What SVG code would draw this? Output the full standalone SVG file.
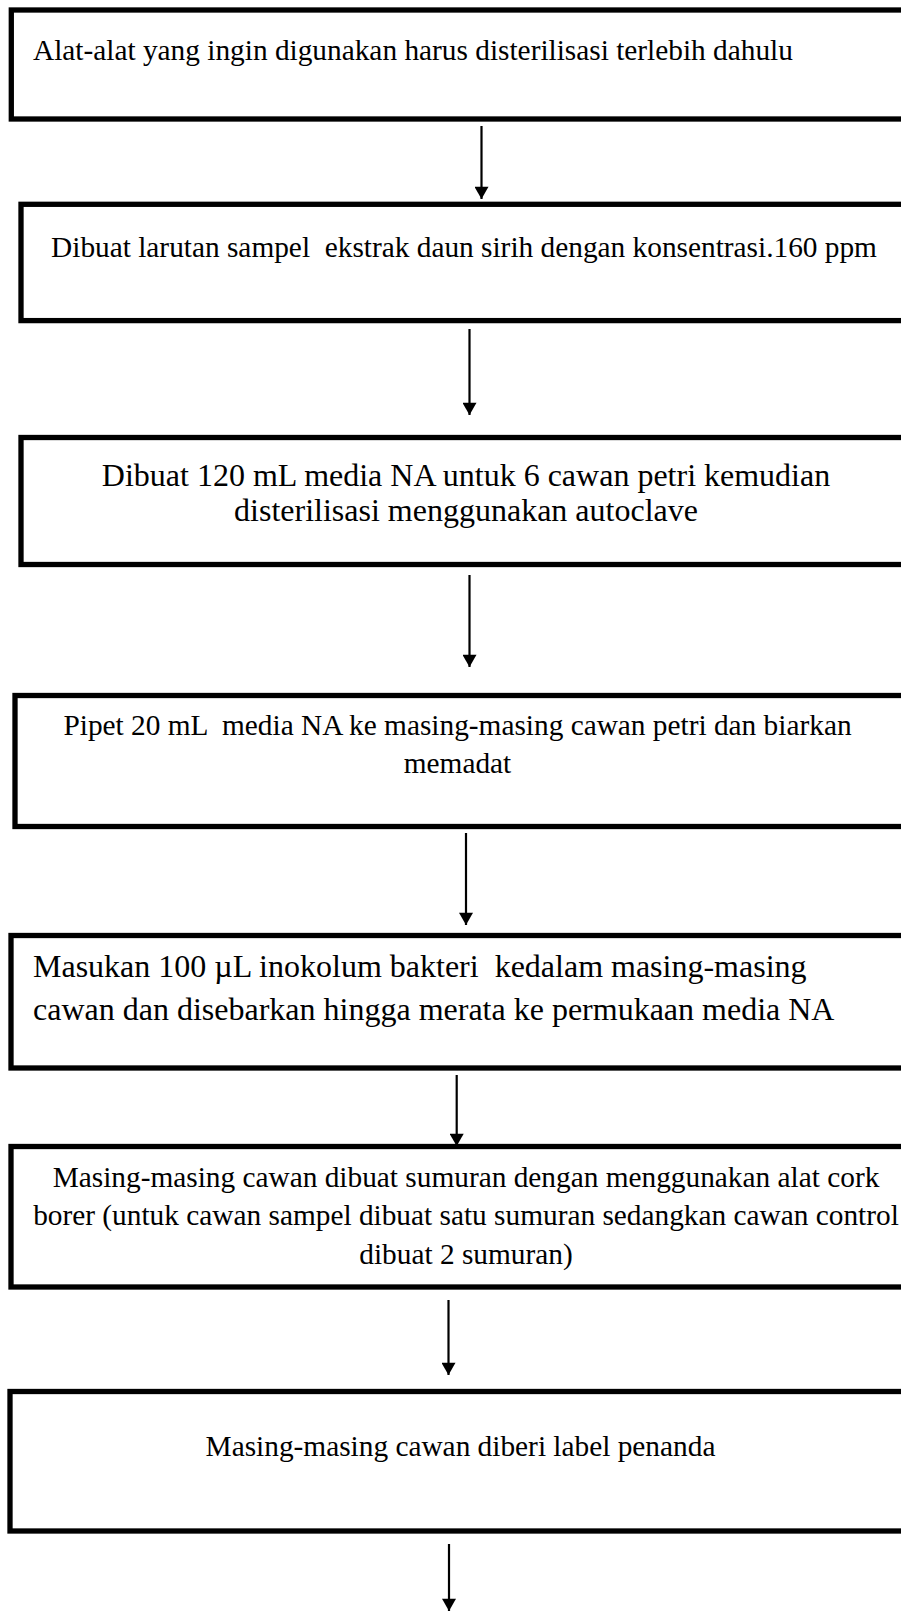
<svg xmlns="http://www.w3.org/2000/svg" width="901" height="1612" viewBox="0 0 901 1612">
<style>
.box{fill:#fff;stroke:#000;stroke-width:5.3}
.t{font-family:"Liberation Serif","Times New Roman",serif;font-size:29.33px;fill:#000}
.tl{font-family:"Liberation Serif","Times New Roman",serif;font-size:32px;fill:#000}
.c{text-anchor:middle}
.ln{stroke:#000;stroke-width:2.2;fill:none}
</style>
<defs>
<marker id="ah" markerUnits="userSpaceOnUse" markerWidth="16" markerHeight="14" refX="13" refY="7.5" orient="auto" viewBox="0 0 13 15">
<path d="M0,0 L13,7.5 L0,15 Z" fill="#000"/>
</marker>
</defs>
<rect width="901" height="1612" fill="#fff"/>
<g id="n1">
<rect class="box" x="11.3" y="10" width="905" height="109"/>
<text class="t" x="33" y="60">Alat-alat yang ingin digunakan harus disterilisasi terlebih dahulu</text>
</g>
<g id="n2">
<rect class="box" x="21" y="204.3" width="895" height="116.3"/>
<text class="t c" x="464" y="257" xml:space="preserve">Dibuat larutan sampel  ekstrak daun sirih dengan konsentrasi.160 ppm</text>
</g>
<g id="n3">
<rect class="box" x="21" y="437.5" width="895" height="127"/>
<text class="tl c" x="466" y="486">Dibuat 120 mL media NA untuk 6 cawan petri kemudian</text>
<text class="tl c" x="466" y="521">disterilisasi menggunakan autoclave</text>
</g>
<g id="n4">
<rect class="box" x="15" y="695.5" width="901" height="131"/>
<text class="t c" x="457.5" y="735" xml:space="preserve">Pipet 20 mL  media NA ke masing-masing cawan petri dan biarkan</text>
<text class="t c" x="457.5" y="773">memadat</text>
</g>
<g id="n5">
<rect class="box" x="11" y="935.5" width="905" height="132.5"/>
<text class="tl" x="33" y="977" xml:space="preserve">Masukan 100 µL inokolum bakteri  kedalam masing-masing</text>
<text class="tl" x="33" y="1020">cawan dan disebarkan hingga merata ke permukaan media NA</text>
</g>
<g id="n6">
<rect class="box" x="11" y="1146.5" width="905" height="140.5"/>
<text class="t c" x="466" y="1187">Masing-masing cawan dibuat sumuran dengan menggunakan alat cork</text>
<text class="t c" x="466" y="1225">borer (untuk cawan sampel dibuat satu sumuran sedangkan cawan control</text>
<text class="t c" x="466" y="1264">dibuat 2 sumuran)</text>
</g>
<g id="n7">
<rect class="box" x="10" y="1391.5" width="906" height="139.5"/>
<text class="t c" x="460.5" y="1456">Masing-masing cawan diberi label penanda</text>
</g>
<g id="connectors">
<line class="ln" x1="481.5" y1="126" x2="481.5" y2="199" marker-end="url(#ah)"/>
<line class="ln" x1="469.5" y1="329" x2="469.5" y2="415" marker-end="url(#ah)"/>
<line class="ln" x1="469.5" y1="575" x2="469.5" y2="667" marker-end="url(#ah)"/>
<line class="ln" x1="466" y1="833" x2="466" y2="925" marker-end="url(#ah)"/>
<line class="ln" x1="456.7" y1="1075" x2="456.7" y2="1146" marker-end="url(#ah)"/>
<line class="ln" x1="448.5" y1="1300" x2="448.5" y2="1375" marker-end="url(#ah)"/>
<line class="ln" x1="449" y1="1544" x2="449" y2="1611" marker-end="url(#ah)"/>
</g>
</svg>
